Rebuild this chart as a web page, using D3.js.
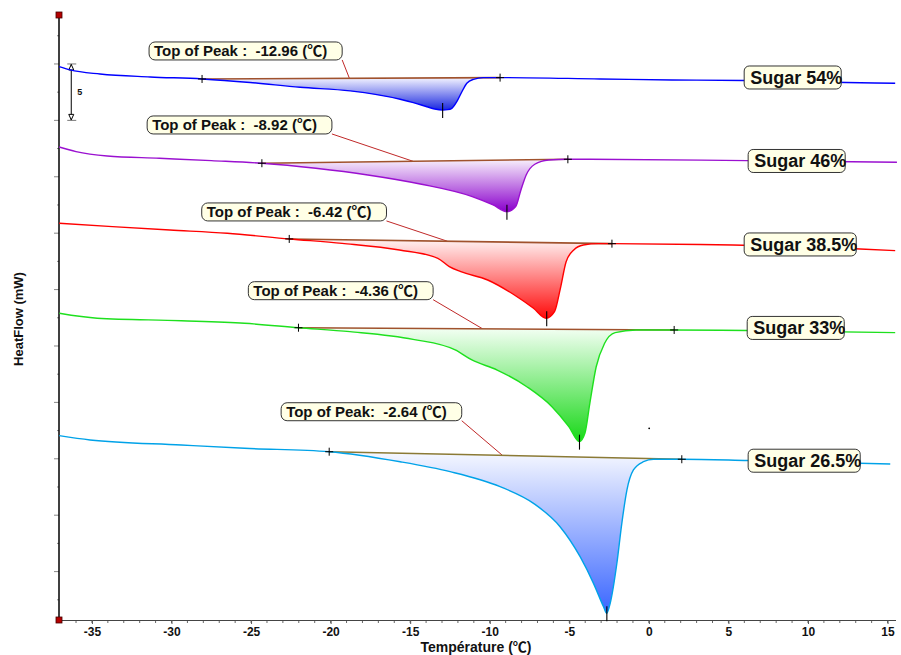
<!DOCTYPE html>
<html><head><meta charset="utf-8">
<script src="https://cdn.jsdelivr.net/npm/d3@7"></script>
<style>
body{margin:0;background:#fff}
svg{display:block}
text{font-family:"Liberation Sans",Arial,"DejaVu Sans",sans-serif;font-weight:bold;fill:#111;white-space:pre}
.cjk{font-family:"Noto Sans CJK SC","Noto Sans CJK JP",sans-serif;font-weight:bold}
</style>
</head><body>
<svg id="c" width="901" height="655"></svg>
<script>
// ---------------- DATA ----------------
const xTickValues = [-35,-30,-25,-20,-15,-10,-5,0,5,10,15];
const xMinorTicks = d3.range(-37, 16, 1);
const yMajorTicks = [0,-5,-10,-15,-20,-25,-30,-35,-40,-45];
const yMinorTicks = [2.5,-2.5,-7.5,-12.5,-17.5,-22.5,-27.5,-32.5,-37.5,-42.5,-47.5];
const seriesNames = ["Sugar 54%","Sugar 46%","Sugar 38.5%","Sugar 33%","Sugar 26.5%"];
const peakTemps = [-12.96,-8.92,-6.42,-4.36,-2.64];
const peakLabels = ["Top of Peak :  -12.96 (℃)","Top of Peak :  -8.92 (℃)","Top of Peak :  -6.42 (℃)","Top of Peak :  -4.36 (℃)","Top of Peak:  -2.64 (℃)"];
// integration limits [temperature, heat flow]
const limitStart = [[-28.08,-1.33],[-24.32,-8.80],[-22.60,-15.51],[-22.02,-23.38],[-20.09,-34.37]];
const limitEnd   = [[-9.35,-1.21],[-5.09,-8.45],[-2.32,-15.93],[1.59,-23.58],[2.07,-35.04]];
// heat flow curves (temperature °C, heat flow mW, offset)
const curve54 = [[-37.06,-0.24],[-36.37,-0.53],[-34.49,-0.89],[-31.34,-1.15],[-28.08,-1.33],[-25.06,-1.64],[-21.92,-2.07],[-18.77,-2.39],[-15.63,-3.13],[-14.80,-3.43],[-13.95,-3.79],[-13.46,-3.99],[-12.95,-4.08],[-12.65,-4.05],[-12.38,-3.93],[-12.07,-3.34],[-11.75,-2.46],[-11.44,-1.71],[-11.02,-1.36],[-10.40,-1.21],[-9.35,-1.21],[-3.06,-1.33],[1.46,-1.42],[5.99,-1.46],[12.40,-1.64],[15.48,-1.71]];
const curve46 = [[-37.06,-7.36],[-36.00,-7.77],[-34.04,-8.16],[-30.76,-8.36],[-27.49,-8.57],[-24.32,-8.80],[-20.93,-9.25],[-17.66,-9.84],[-14.37,-10.64],[-11.10,-11.76],[-9.79,-12.50],[-8.91,-13.09],[-8.37,-12.65],[-8.04,-11.17],[-7.71,-9.84],[-7.17,-8.89],[-6.29,-8.51],[-5.09,-8.45],[-3.69,-8.45],[6.16,-8.57],[15.59,-8.71]];
const curve385 = [[-37.06,-14.12],[-33.71,-14.42],[-30.10,-14.72],[-26.49,-15.01],[-22.60,-15.51],[-19.28,-15.90],[-15.67,-16.49],[-13.26,-17.23],[-12.54,-17.97],[-11.82,-18.41],[-10.13,-19.15],[-8.45,-20.48],[-7.25,-21.66],[-6.46,-22.54],[-5.93,-21.96],[-5.56,-19.89],[-5.20,-17.53],[-4.72,-16.49],[-4.12,-16.05],[-3.16,-15.93],[-2.32,-15.93],[3.22,-16.00],[13.28,-16.40],[15.48,-16.55]];
const curve33 = [[-37.05,-22.10],[-34.67,-22.54],[-29.38,-22.76],[-25.41,-22.99],[-22.02,-23.38],[-18.79,-23.73],[-14.82,-24.41],[-12.17,-25.35],[-11.12,-26.24],[-9.53,-27.13],[-7.67,-28.61],[-6.09,-30.38],[-5.03,-32.15],[-4.37,-33.48],[-4.02,-32.74],[-3.71,-30.08],[-3.31,-26.84],[-2.78,-24.76],[-2.12,-23.82],[-0.80,-23.58],[1.59,-23.58],[6.18,-23.63],[15.48,-23.82]];
const curve265 = [[-37.06,-32.95],[-35.12,-33.33],[-29.38,-33.78],[-25.41,-34.07],[-20.09,-34.37],[-15.63,-35.26],[-12.49,-36.14],[-9.35,-37.47],[-7.25,-38.95],[-5.58,-41.02],[-4.32,-43.68],[-3.48,-46.04],[-2.85,-48.11],[-2.65,-48.70],[-2.43,-47.81],[-2.01,-44.26],[-1.70,-40.72],[-1.38,-37.77],[-0.97,-35.99],[-0.34,-35.26],[0.29,-35.04],[2.07,-35.04],[6.24,-35.15],[15.17,-35.46]];
const curves = [curve54, curve46, curve385, curve33, curve265];

// ---------------- LAYOUT / STYLE ----------------
const lineColors = ["#0000ff","#9a10d0","#ff0000","#1ee01e","#00a2e8"];
const fillTop    = ["#f4f4ff","#f8f0fc","#fff4f4","#f4fff4","#f6f8ff"];
const fillBottom = ["#1a28e0","#8a00cc","#ff0a0a","#18d818","#3a66ff"];
const baseColors = ["#a0522d","#a0522d","#a0522d","#a0522d","#8b7a35"];
const peakBoxPos = [[-31.41,1.95],[-31.53,-4.61],[-28.10,-12.32],[-25.17,-19.30],[-23.11,-30.03]];
const leaderEndT = [-18.82,-14.82,-12.66,-10.45,-9.20];
const nameBoxPos = [[5.99,-1.20],[6.24,-8.60],[5.99,-16.00],[6.18,-23.40],[6.24,-35.17]];

const svg = d3.select("#c");
const x = d3.scaleLinear().domain([-37.07, 15.5]).range([59, 895.5]);
const y = d3.scaleLinear().domain([-49.29, 4.34]).range([620, 15]);

// helper: write text with ℃ in a CJK font
function richText(sel, str){
  const parts = str.split("℃");
  parts.forEach((p,k)=>{
    if(p.length) sel.append("tspan").text(p);
    if(k<parts.length-1) sel.append("tspan").attr("class","cjk").text("℃");
  });
  return sel;
}

// gradients
const defs = svg.append("defs");
curves.forEach((c,i)=>{
  const g = defs.append("linearGradient").attr("id","g"+i).attr("x1",0).attr("y1",0).attr("x2",0).attr("y2",1);
  g.append("stop").attr("offset","0%").attr("stop-color",fillTop[i]);
  g.append("stop").attr("offset","100%").attr("stop-color",fillBottom[i]);
});

// axes
const gx = svg.append("g").attr("transform","translate(0,620)");
gx.selectAll("line.minor").data(xMinorTicks).join("line")
  .attr("x1",d=>x(d)).attr("x2",d=>x(d)).attr("y1",0).attr("y2",3)
  .attr("stroke","#666").attr("stroke-width",1);
const xAxis = d3.axisBottom(x).tickValues(xTickValues).tickFormat(d=>String(d)).tickSize(4).tickSizeOuter(0).tickPadding(3);
gx.call(xAxis);
gx.select(".domain").attr("stroke","#444").attr("stroke-width",1.2);
gx.selectAll(".tick line").attr("stroke","#555");
gx.selectAll(".tick text").attr("font-size",12).attr("font-family","'Liberation Sans',Arial,sans-serif").attr("font-weight","bold").attr("fill","#111");

const gy = svg.append("g");
gy.selectAll("line.maj").data(yMajorTicks).join("line")
  .attr("x1",54).attr("x2",59).attr("y1",d=>y(d)).attr("y2",d=>y(d)).attr("stroke","#888");
gy.selectAll("line.min").data(yMinorTicks).join("line")
  .attr("x1",57).attr("x2",59).attr("y1",d=>y(d)).attr("y2",d=>y(d)).attr("stroke","#888");
gy.append("line").attr("x1",59).attr("x2",59).attr("y1",y.range()[1]).attr("y2",y.range()[0])
  .attr("stroke","#000").attr("stroke-width",1.5);
[y.range()[1], y.range()[0]].forEach(v=>{
  svg.append("rect").attr("x",56).attr("y",v-3).attr("width",6).attr("height",6)
    .attr("fill","#b40000").attr("stroke","#400").attr("stroke-width",0.8);
});

// axis titles
richText(svg.append("text").attr("x",476).attr("y",652).attr("text-anchor","middle").attr("font-size",14), "Température (℃)");
svg.append("text").attr("transform","translate(23,319) rotate(-90)").attr("text-anchor","middle").attr("font-size",13).text("HeatFlow (mW)");

// scale bar (5 mW)
const sbT = -36.3;
const sb = svg.append("g").attr("stroke","#000").attr("fill","none").attr("stroke-width",1);
sb.append("line").attr("x1",x(sbT)).attr("x2",x(sbT)).attr("y1",y(0)).attr("y2",y(-5));
sb.append("line").attr("x1",x(sbT)-4).attr("x2",x(sbT)+5).attr("y1",y(0)).attr("y2",y(0)).attr("stroke","#777");
sb.append("line").attr("x1",x(sbT)-4).attr("x2",x(sbT)+5).attr("y1",y(-5)).attr("y2",y(-5)).attr("stroke","#777");
sb.append("path").attr("d",`M${x(sbT)},${y(0)+0.5} l-2.5,5.5 h5 z`).attr("fill","#fff");
sb.append("path").attr("d",`M${x(sbT)},${y(-5)-0.5} l-2.5,-5.5 h5 z`).attr("fill","#fff");
svg.append("text").attr("x",x(sbT)+6).attr("y",(y(0)+y(-5))/2+3).attr("font-size",9).text("5");

// curves
const line = d3.line().x(d=>x(d[0])).y(d=>y(d[1])).curve(d3.curveMonotoneX);
curves.forEach((c,i)=>{
  const s = limitStart[i], e = limitEnd[i];
  const base = t => s[1] + (e[1]-s[1])*(t-s[0])/(e[0]-s[0]);
  const seg = c.filter(d=>d[0]>=s[0]-1e-9 && d[0]<=e[0]+1e-9);
  const area = d3.area().x(d=>x(d[0])).y0(d=>y(base(d[0]))).y1(d=>y(d[1])).curve(d3.curveMonotoneX);
  svg.append("path").datum(seg).attr("d",area).attr("fill",`url(#g${i})`);
  svg.append("line").attr("x1",x(s[0])).attr("y1",y(s[1])).attr("x2",x(e[0])).attr("y2",y(e[1]))
    .attr("stroke",baseColors[i]).attr("stroke-width",1.6);
  svg.append("path").datum(c).attr("d",line).attr("fill","none").attr("stroke",lineColors[i]).attr("stroke-width",1.4);
});

// markers: crosses at limits and vertical peak tick
curves.forEach((c,i)=>{
  [limitStart[i],limitEnd[i]].forEach(p=>{
    const cx=x(p[0]), cy=y(p[1]);
    svg.append("path").attr("d",`M${cx-4},${cy}h8M${cx},${cy-4}v8`).attr("stroke","#000").attr("stroke-width",1);
  });
  const pk = c.reduce((a,b)=>b[1]<a[1]?b:a);
  const px = x(peakTemps[i]), py = y(pk[1]);
  svg.append("line").attr("x1",px).attr("x2",px).attr("y1",py-7).attr("y2",py+8).attr("stroke","#000").attr("stroke-width",1.1);
});

// small dot artifact
svg.append("circle").attr("cx",x(0.02)).attr("cy",y(-32.3)).attr("r",0.9).attr("fill","#000");

// peak labels
peakLabels.forEach((t,i)=>{
  const bx = x(peakBoxPos[i][0]), by = y(peakBoxPos[i][1]);
  const g = svg.append("g");
  const rect = g.append("rect").attr("x",bx).attr("y",by).attr("height",18).attr("rx",6)
    .attr("fill","#ffffe6").attr("stroke","#333").attr("stroke-width",1);
  const tx = richText(g.append("text").attr("x",bx+5).attr("y",by+14).attr("font-size",15), t);
  const w = tx.node().getComputedTextLength()+20;
  rect.attr("width",w);
  const s = limitStart[i], e = limitEnd[i];
  const lt = leaderEndT[i];
  const ly = s[1] + (e[1]-s[1])*(lt-s[0])/(e[0]-s[0]);
  svg.insert("line","g").attr("x1",bx+w).attr("y1",by+18).attr("x2",x(lt)).attr("y2",y(ly))
    .attr("stroke","#c02828").attr("stroke-width",1);
});

// series name labels
seriesNames.forEach((t,i)=>{
  const bx = x(nameBoxPos[i][0]), cy = y(nameBoxPos[i][1]);
  const g = svg.append("g");
  const rect = g.append("rect").attr("x",bx).attr("y",cy-11.5).attr("height",23).attr("rx",5)
    .attr("fill","#ffffe6").attr("stroke","#333").attr("stroke-width",1);
  const tx = g.append("text").attr("x",bx+6).attr("y",cy+6.5).attr("font-size",18).text(t);
  rect.attr("width",tx.node().getComputedTextLength()+5);
});
</script>
</body></html>
